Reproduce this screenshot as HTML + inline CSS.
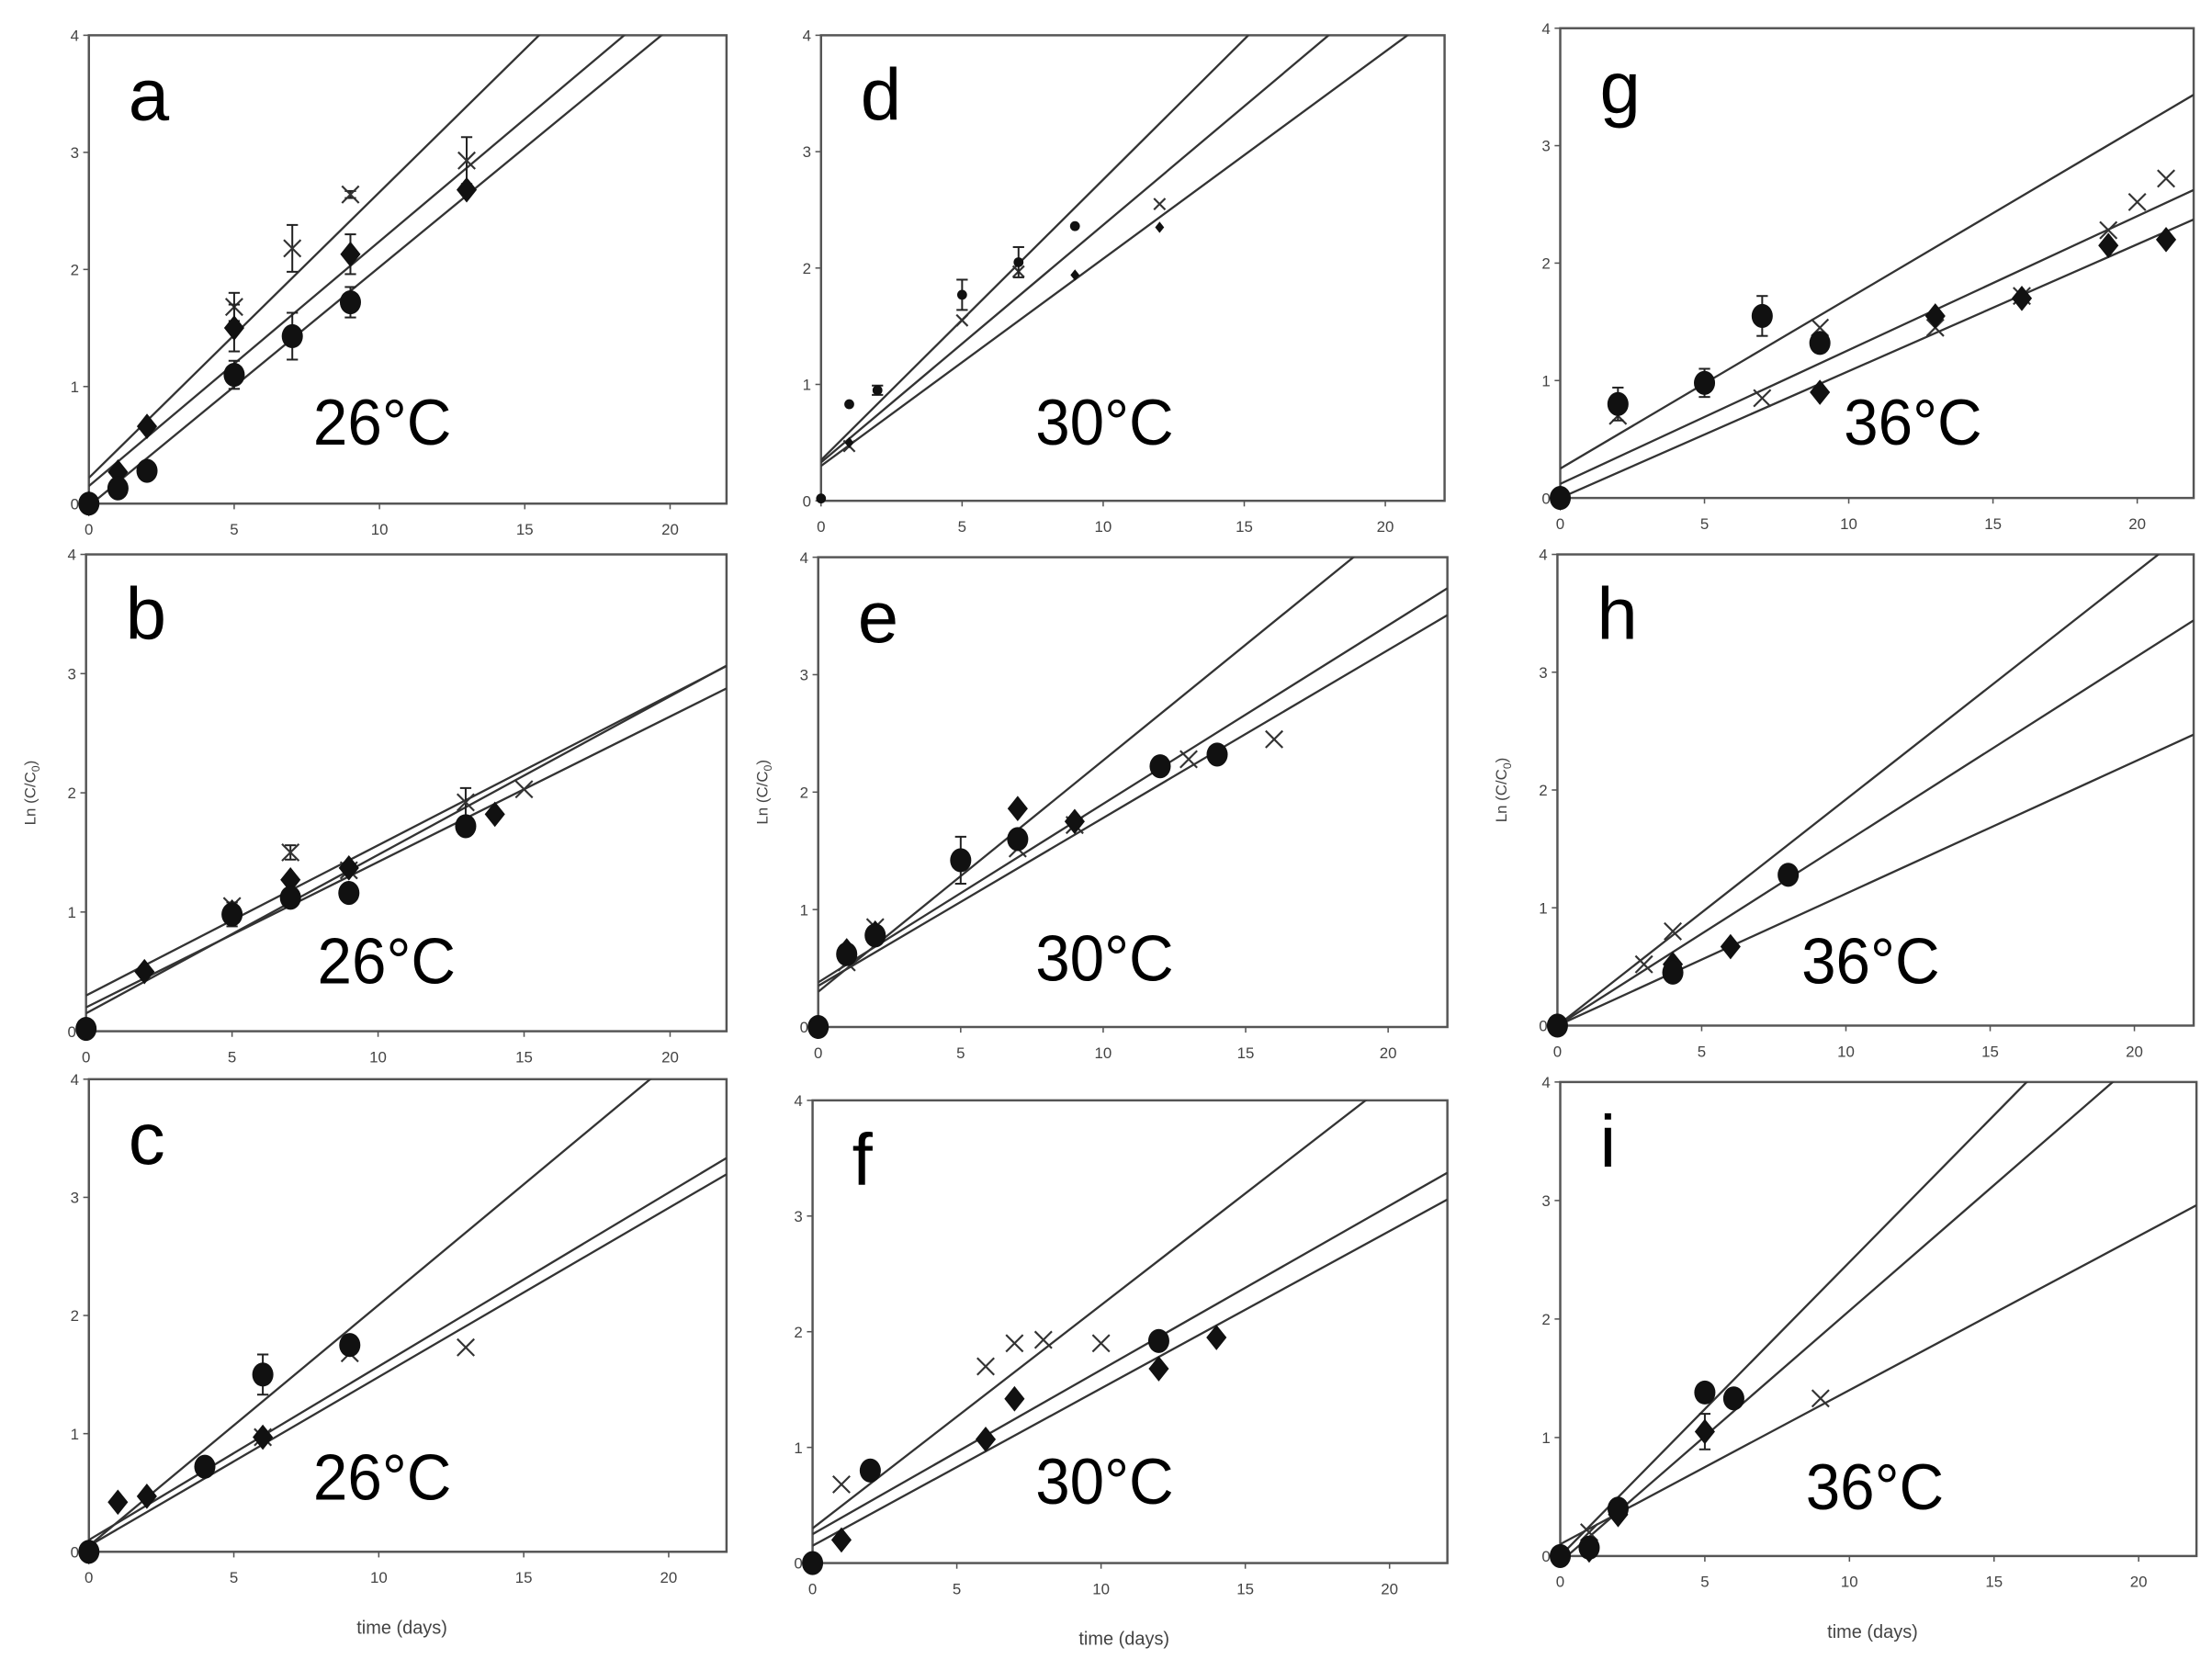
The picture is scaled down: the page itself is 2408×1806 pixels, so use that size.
<!DOCTYPE html>
<html><head><meta charset="utf-8">
<style>
html,body{margin:0;padding:0;background:#fff;}
svg{display:block;}
text{font-family:"Liberation Sans",Arial,sans-serif;}
</style></head>
<body>
<svg id="chart" width="2408" height="1806" viewBox="0 0 1568 1176" xmlns="http://www.w3.org/2000/svg"></svg>
<script>
// ---- data (per panel) ----
const panelLetters = ["a","d","g","b","e","h","c","f","i"];
const panelTemps = ["26°C","30°C","36°C","26°C","30°C","36°C","26°C","30°C","36°C"];
const xTicks = [0,5,10,15,20];
const yTicks = [0,1,2,3,4];
const yTickLabels = ["0","1","2","3","4"];
const xTickLabels = ["0","5","10","15","20"];
// fitted lines: [intercept, slope]
const lineIntercepts = [[0.22,0.15,-0.02],[0.35,0.33,0.3],[0.25,0.12,0.0],[0.3,0.15,0.2],[0.3,0.38,0.35],[0,0,0],[0.05,0.1,0.05],[0.3,0.25,0.15],[0,-0.05,0.1]];
const lineSlopes = [[0.244,0.209,0.204],[0.241,0.204,0.178],[0.145,0.114,0.108],[0.126,0.133,0.122],[0.197,0.152,0.143],[0.192,0.156,0.112],[0.204,0.147,0.143],[0.193,0.142,0.136],[0.248,0.212,0.13]];
// circles: [day, value, err]
const circleData = [
 [[0,0,0],[1,0.13,0],[2,0.28,0],[5,1.1,0.12],[7,1.43,0.2],[9,1.72,0.13]],
 [[0,0.02,0],[1,0.83,0],[2,0.95,0.04],[5,1.77,0.13],[7,2.05,0.13],[9,2.36,0]],
 [[0,0,0],[2,0.8,0.14],[5,0.98,0.12],[7,1.55,0.17],[9,1.32,0]],
 [[0,0.02,0],[5,0.98,0.1],[7,1.12,0],[9,1.16,0],[13,1.72,0]],
 [[0,0,0],[1,0.62,0],[2,0.78,0],[5,1.42,0.2],[7,1.6,0],[12,2.22,0],[14,2.32,0]],
 [[0,0,0],[4,0.45,0],[8,1.28,0]],
 [[0,0,0],[4,0.72,0],[6,1.5,0.17],[9,1.75,0]],
 [[0,0,0],[2,0.8,0],[12,1.92,0]],
 [[0,0,0],[1,0.07,0],[2,0.4,0],[5,1.38,0],[6,1.33,0]]
];
const diamondData = [
 [[0,0,0],[1,0.27,0],[2,0.66,0],[5,1.5,0.2],[9,2.13,0.17],[13,2.68,0]],
 [[1,0.5,0],[9,1.94,0],[12,2.35,0]],
 [[0,0,0],[9,0.9,0],[13,1.55,0],[16,1.7,0],[19,2.15,0],[21,2.2,0]],
 [[2,0.5,0],[5,1.0,0],[7,1.27,0],[9,1.37,0],[14,1.82,0]],
 [[1,0.65,0],[2,0.8,0],[7,1.86,0],[9,1.75,0]],
 [[4,0.52,0],[6,0.67,0]],
 [[0,0,0],[1,0.42,0],[2,0.47,0],[6,0.97,0]],
 [[1,0.2,0],[6,1.07,0],[7,1.42,0],[12,1.68,0],[14,1.95,0]],
 [[1,0.05,0],[2,0.35,0],[5,1.05,0.15]]
];
const crossData = [
 [[5,1.68,0.12],[7,2.18,0.2],[9,2.64,0.03],[13,2.93,0.2]],
 [[1,0.47,0],[5,1.55,0],[7,1.97,0],[12,2.55,0]],
 [[2,0.7,0],[7,0.85,0],[9,1.45,0],[13,1.45,0],[16,1.72,0],[19,2.28,0],[20,2.52,0],[21,2.72,0]],
 [[5,1.05,0],[7,1.5,0.06],[9,1.35,0],[13,1.92,0.12],[15,2.03,0]],
 [[1,0.55,0],[2,0.85,0],[7,1.52,0],[9,1.72,0],[13,2.28,0],[16,2.45,0]],
 [[3,0.52,0],[4,0.8,0]],
 [[6,0.97,0],[9,1.68,0],[13,1.73,0]],
 [[1,0.68,0],[6,1.7,0],[7,1.9,0],[8,1.93,0],[10,1.9,0]],
 [[1,0.2,0],[9,1.33,0]]
];
// ---- layout (display px in viewBox) ----
const frames = [
 {x0:63,x20:475,xr:515,y0:357,y4:25,tx:271,ty:315},
 {x0:582,x20:982,xr:1024,y0:355,y4:25,tx:783,ty:315},
 {x0:1106,x20:1515,xr:1555,y0:353,y4:20,tx:1356,ty:315},
 {x0:61,x20:475,xr:515,y0:731,y4:393,tx:274,ty:697},
 {x0:580,x20:984,xr:1026,y0:728,y4:395,tx:783,ty:695},
 {x0:1104,x20:1513,xr:1555,y0:727,y4:393,tx:1326,ty:697},
 {x0:63,x20:474,xr:515,y0:1100,y4:765,tx:271,ty:1063},
 {x0:576,x20:985,xr:1026,y0:1108,y4:780,tx:783,ty:1066},
 {x0:1106,x20:1516,xr:1557,y0:1103,y4:767,tx:1329,ty:1070}
];
const NS="http://www.w3.org/2000/svg";
const svg=document.getElementById('chart');
function mk(tag,attrs,parent){const e=document.createElementNS(NS,tag);for(const k in attrs)e.setAttribute(k,attrs[k]);(parent||svg).appendChild(e);return e;}
frames.forEach((f,i)=>{
  const g=mk('g',{});
  
  
  const X=d=>f.x0+(f.x20-f.x0)*d/20;
  const Y=v=>f.y0-(f.y0-f.y4)*v/4;
  const dmax=(f.xr-f.x0)/(f.x20-f.x0)*20;
  const cid='clip'+i;
  const cp=mk('clipPath',{id:cid},g);
  mk('rect',{x:f.x0,y:f.y4,width:f.xr-f.x0,height:f.y0-f.y4},cp);
  const fr=mk('rect',{x:f.x0,y:f.y4,width:f.xr-f.x0,height:f.y0-f.y4,fill:'none',stroke:'#555','stroke-width':1.6},g);
  
  
  yTicks.forEach((t,k)=>{
    mk('line',{x1:f.x0-4,x2:f.x0,y1:Y(t),y2:Y(t),stroke:'#555','stroke-width':1},g);
    const tx=mk('text',{x:f.x0-7,y:Y(t)+4,'font-size':11,'text-anchor':'end',fill:'#444'},g);
    tx.textContent=yTickLabels[k];
    
    
  });
  xTicks.forEach((t,k)=>{
    mk('line',{x1:X(t),x2:X(t),y1:f.y0,y2:f.y0+4,stroke:'#555','stroke-width':1},g);
    const tx=mk('text',{x:X(t),y:f.y0+22,'font-size':11,'text-anchor':'middle',fill:'#444'},g);
    tx.textContent=xTickLabels[k];
    
    
  });
  const lg=mk('g',{'clip-path':'url(#'+cid+')'},g);
  lineIntercepts[i].forEach((b,k)=>{
    const m=lineSlopes[i][k];
    const ln=mk('line',{x1:X(0),y1:Y(b),x2:X(dmax),y2:Y(b+m*dmax),stroke:'#333','stroke-width':1.5},lg);
    
    
  });
  const small = (i===1);
  const err=(d,v,e)=>{ if(!e)return; const x=X(d);
    mk('line',{x1:x,x2:x,y1:Y(v-e),y2:Y(v+e),stroke:'#222','stroke-width':1.3},g);
    mk('line',{x1:x-4,x2:x+4,y1:Y(v-e),y2:Y(v-e),stroke:'#222','stroke-width':1.3},g);
    mk('line',{x1:x-4,x2:x+4,y1:Y(v+e),y2:Y(v+e),stroke:'#222','stroke-width':1.3},g);};
  crossData[i].forEach(p=>{err(p[0],p[1],p[2]);const x=X(p[0]),y=Y(p[1]),s=small?4:6;
    const c=mk('path',{d:`M${x-s} ${y-s}L${x+s} ${y+s}M${x-s} ${y+s}L${x+s} ${y-s}`,stroke:'#333','stroke-width':1.4,fill:'none'},g);
    
    });
  diamondData[i].forEach(p=>{err(p[0],p[1],p[2]);const x=X(p[0]),y=Y(p[1]),s=small?4:9;
    const c=mk('path',{d:`M${x} ${y-s}L${x+s*0.8} ${y}L${x} ${y+s}L${x-s*0.8} ${y}Z`,fill:'#111'},g);
    
    });
  circleData[i].forEach(p=>{err(p[0],p[1],p[2]);const x=X(p[0]),y=Y(p[1]);
    const c=mk('ellipse',{cx:x,cy:y,rx:small?3.5:7.5,ry:small?3.5:8.5,fill:'#111'},g);
    
    });
  const L=mk('text',{x:f.x0+28,y:f.y4+60,'font-size':52,fill:'#000'},g);
  L.textContent=panelLetters[i];
  
  
  const T=mk('text',{x:f.tx,y:f.ty,'font-size':46,'text-anchor':'middle',fill:'#000',textLength:98,lengthAdjust:'spacingAndGlyphs'},g);
  T.textContent=panelTemps[i];
  
  
  if(i>=3&&i<=5){
    const yl=mk('text',{x:0,y:0,'font-size':11,'text-anchor':'middle',fill:'#444',transform:`translate(${f.x0-36},${(f.y0+f.y4)/2}) rotate(-90)`},g);
    yl.innerHTML='Ln (C/C<tspan font-size="8" dy="3">0</tspan><tspan dy="-3">)</tspan>';
    
    
  }
  if(i>=6){
    const xl=mk('text',{x:X(10.8),y:f.y0+58,'font-size':13,'text-anchor':'middle',fill:'#444'},g);
    xl.textContent='time (days)';
    
    
  }
});
</script>
</body></html>
